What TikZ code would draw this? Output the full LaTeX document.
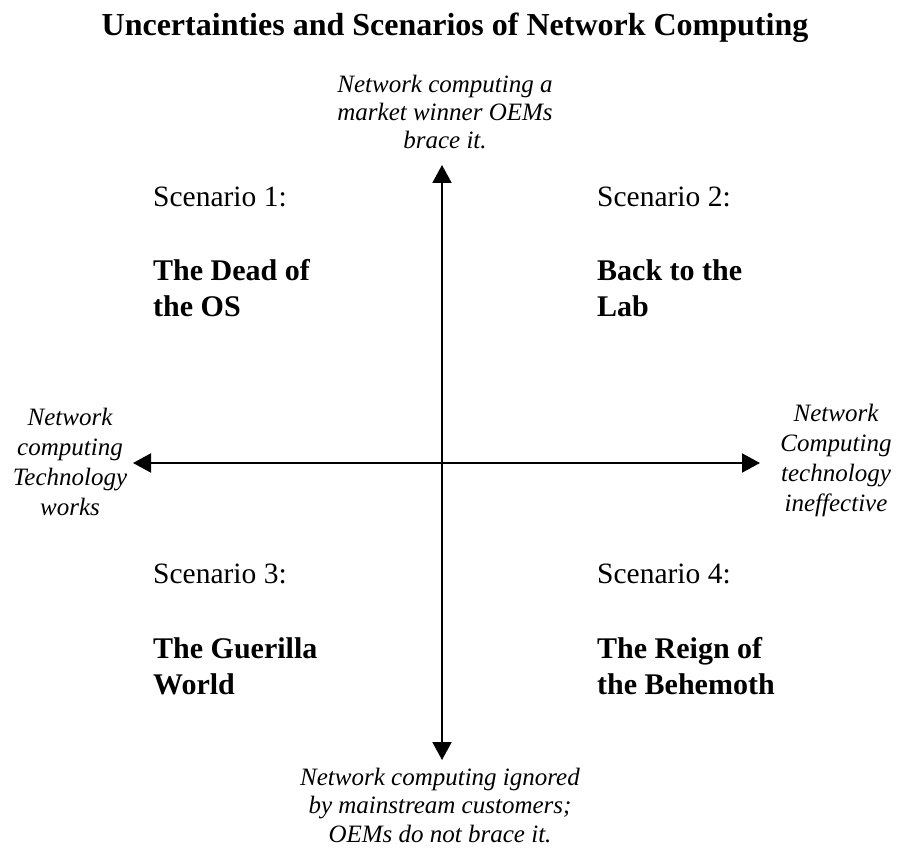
\documentclass[tikz,border=0pt]{standalone}
\usepackage{fontspec}
\setmainfont{Liberation Serif}
\usetikzlibrary{arrows.meta}

\begin{document}
\begin{tikzpicture}[x=1pt,y=-1pt,
    axis/.style={line width=2pt,-{Triangle[length=18pt,width=19pt]}},
    pole/.style={font=\fontsize{25}{28}\selectfont\itshape,align=center,inner sep=0pt},
    scen/.style={font=\fontsize{29.5}{32}\selectfont,anchor=base west,inner sep=0pt},
    scenname/.style={font=\fontsize{30}{36}\selectfont\bfseries,align=left,anchor=north west,inner sep=0pt}]
	\useasboundingbox (0,0) rectangle (898,848);
	\node[font=\fontsize{32}{36}\selectfont\bfseries,anchor=base,inner sep=0pt] (title) at (455,36) {Uncertainties and Scenarios of Network Computing};
	% the two axes
	\coordinate (O) at (442,463);
	\coordinate (N) at (442,165);
	\coordinate (S) at (442,760);
	\coordinate (W) at (133,463);
	\coordinate (E) at (760,463);
	\draw[axis] (O)--(N);
	\draw[axis] (O)--(S);
	\draw[axis] (O)--(W);
	\draw[axis] (O)--(E);
	% ends of the axes
	\node[pole] (top) at (445,112) {Network computing a\\market winner OEMs\\brace it.};
	\node[pole,font=\fontsize{25}{28.5}\selectfont\itshape] (bottom) at (440,805.5) {Network computing ignored\\by mainstream customers;\\OEMs do not brace it.};
	\node[pole,font=\fontsize{25}{30}\selectfont\itshape] (left) at (70,462) {Network\\computing\\Technology\\works};
	\node[pole,font=\fontsize{25}{30}\selectfont\itshape] (right) at (836,460) {Network\\Computing\\technology\\ineffective};
	% scenarios
	\node[scen] (s1) at (153,207) {Scenario 1:};
	\node[scenname] (n1) at (153,259) {The Dead of\\the OS};
	\node[scen] (s2) at (597,207) {Scenario 2:};
	\node[scenname] (n2) at (597,259) {Back to the\\Lab};
	\node[scen] (s3) at (153,583) {Scenario 3:};
	\node[scenname] (n3) at (153,637) {The Guerilla\\World};
	\node[scen] (s4) at (597,583) {Scenario 4:};
	\node[scenname] (n4) at (597,637) {The Reign of\\the Behemoth};
\end{tikzpicture}
\end{document}
